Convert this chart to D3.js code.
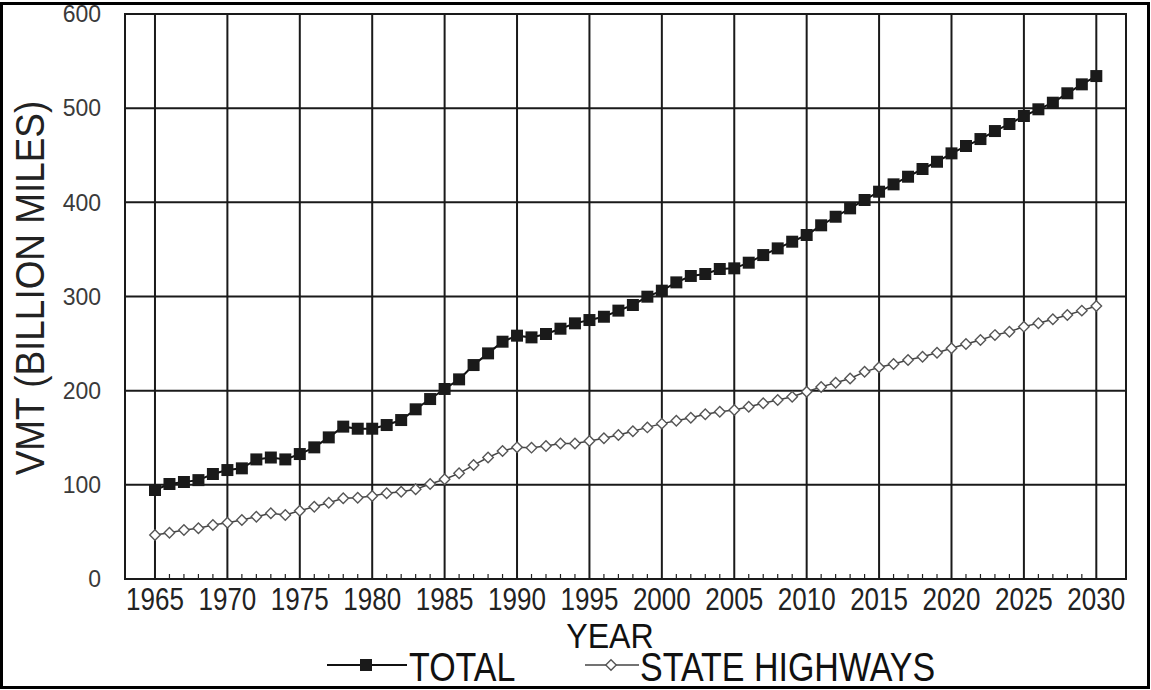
<!DOCTYPE html>
<html>
<head>
<meta charset="utf-8">
<script src="https://cdn.jsdelivr.net/npm/d3@7"></script>
<style>
  html, body { margin: 0; padding: 0; background: #fff; }
  svg { display: block; }
  text { font-family: "Liberation Sans", Arial, sans-serif; fill: #111; }
</style>
</head>
<body>
<svg id="chart" width="1151" height="690"></svg>
<script>
// Annual vehicle miles travelled, billions of miles
const years = d3.range(1965, 2031);
const totalVMT = [
  94.5, 100.9, 103, 105, 111.5, 115.7, 117.5, 127, 129, 127,
  132.7, 139.8, 150.4, 161.8, 159.6, 159.6, 163.5, 168.8, 180.2, 191.1,
  201.8, 212, 227.2, 239.6, 252, 258.4, 256.6, 260.2, 265.8, 271.5,
  275, 278.5, 285, 291, 299.8, 306.2, 315, 321.8, 323.9, 329.2,
  329.9, 335.9, 344, 351.1, 358.2, 365.3, 375.6, 384.7, 393.6, 402.5,
  411.3, 419.1, 427.2, 435.4, 443.1, 452, 459.8, 467.2, 475.7, 483.2,
  491.7, 498.8, 505.8, 515.8, 525.3, 534.1
];
const stateHighwayVMT = [
  46.7, 49.2, 52, 53.8, 57.3, 59.8, 62.7, 66.2, 69.8, 68,
  72.5, 76.8, 81, 85.7, 86.3, 88.1, 91, 92.7, 95.2, 100.9,
  105.9, 112.2, 121, 129, 136, 139.8, 139.5, 141.2, 144, 144,
  146.5, 149.4, 153, 157, 161, 165, 168.1, 171.3, 174.9, 177.7,
  179.5, 183, 186.6, 190, 193.6, 198.9, 204, 208.5, 213, 220,
  224.8, 228.3, 232.6, 236, 240.3, 245, 249.5, 253.8, 259, 262.6,
  268, 271.5, 275.8, 280.3, 285, 290
];
const yTicks = [0, 100, 200, 300, 400, 500, 600];
const xTicks = d3.range(1965, 2031, 5);
const seriesNames = ["TOTAL", "STATE HIGHWAYS"];

const svg = d3.select("#chart");
const plot = { left: 125, right: 1126, top: 14, bottom: 579 };

const x = d3.scaleLinear().domain([1962.93, 2032.05]).range([plot.left, plot.right]);
const y = d3.scaleLinear().domain([0, 600]).range([plot.bottom, plot.top]);

// outer frame
svg.append("rect")
  .attr("x", 1.5).attr("y", 3.5).attr("width", 1147).attr("height", 684)
  .attr("fill", "none").attr("stroke", "#000").attr("stroke-width", 3);

// grid
const grid = svg.append("g").attr("stroke", "#1a1a1a").attr("stroke-width", 2);
grid.selectAll("line.h").data(yTicks).join("line")
  .attr("x1", plot.left).attr("x2", plot.right)
  .attr("y1", d => y(d)).attr("y2", d => y(d));
grid.selectAll("line.v").data(xTicks).join("line")
  .attr("x1", d => x(d)).attr("x2", d => x(d))
  .attr("y1", plot.top).attr("y2", plot.bottom);

// plot border
svg.append("rect")
  .attr("x", plot.left).attr("y", plot.top)
  .attr("width", plot.right - plot.left).attr("height", plot.bottom - plot.top)
  .attr("fill", "none").attr("stroke", "#1a1a1a").attr("stroke-width", 2);

// yearly minor ticks along the bottom axis
svg.append("g").attr("stroke", "#222").attr("stroke-width", 1.2)
  .selectAll("line").data(years.filter(v => v % 5 !== 0)).join("line")
  .attr("x1", d => x(d)).attr("x2", d => x(d))
  .attr("y1", plot.bottom).attr("y2", plot.bottom - 5);

// y tick labels
svg.append("g").selectAll("text").data(yTicks).join("text")
  .attr("x", 101).attr("y", d => y(d)).attr("dy", "0.36em")
  .attr("text-anchor", "end").attr("font-size", 23).style("fill", "#3a3a3a")
  .text(d => d);

// x tick labels (condensed)
svg.append("g").selectAll("text").data(xTicks).join("text")
  .attr("transform", d => `translate(${x(d)},610) scale(0.84,1)`)
  .attr("text-anchor", "middle").attr("font-size", 31).style("fill", "#222")
  .text(d => d);

// axis titles
svg.append("text")
  .attr("transform", "translate(44,288) rotate(-90) scale(0.9,1)")
  .attr("text-anchor", "middle").attr("font-size", 41).style("fill", "#222")
  .text("VMT (BILLION MILES)");
svg.append("text")
  .attr("transform", "translate(610,648) scale(0.92,1)")
  .attr("text-anchor", "middle").attr("font-size", 35).style("fill", "#111")
  .text("YEAR");

const line = d3.line().x((d, i) => x(years[i])).y(d => y(d));

// state highways series
svg.append("path").datum(stateHighwayVMT)
  .attr("d", line).attr("fill", "none").attr("stroke", "#444").attr("stroke-width", 1.5);
const diamond = d3.symbol().type(d3.symbolDiamond2).size(70);
svg.append("g").selectAll("path").data(stateHighwayVMT).join("path")
  .attr("d", diamond)
  .attr("transform", (d, i) => `translate(${x(years[i])},${y(d)})`)
  .attr("fill", "#fff").attr("stroke", "#555").attr("stroke-width", 1.4);

// total series
svg.append("path").datum(totalVMT)
  .attr("d", line).attr("fill", "none").attr("stroke", "#111").attr("stroke-width", 2);
const square = d3.symbol().type(d3.symbolSquare).size(144);
svg.append("g").selectAll("path").data(totalVMT).join("path")
  .attr("d", square)
  .attr("transform", (d, i) => `translate(${x(years[i])},${y(d)})`)
  .attr("fill", "#1a1a1a");

// legend
const legend = svg.append("g");
legend.append("line").attr("x1", 327).attr("x2", 407).attr("y1", 665).attr("y2", 665)
  .attr("stroke", "#111").attr("stroke-width", 2);
legend.append("path").attr("d", d3.symbol().type(d3.symbolSquare).size(144))
  .attr("transform", "translate(366,665)").attr("fill", "#1a1a1a");
legend.append("text").attr("transform", "translate(409,681) scale(0.85,1)").attr("font-size", 40)
  .style("fill", "#111").text(seriesNames[0]);
legend.append("line").attr("x1", 585).attr("x2", 639).attr("y1", 665).attr("y2", 665)
  .attr("stroke", "#444").attr("stroke-width", 1.5);
legend.append("path").attr("d", d3.symbol().type(d3.symbolDiamond2).size(70))
  .attr("transform", "translate(611,665)")
  .attr("fill", "#fff").attr("stroke", "#555").attr("stroke-width", 1.4);
legend.append("text").attr("transform", "translate(640,681) scale(0.85,1)").attr("font-size", 40)
  .style("fill", "#111").text(seriesNames[1]);
</script>
</body>
</html>
